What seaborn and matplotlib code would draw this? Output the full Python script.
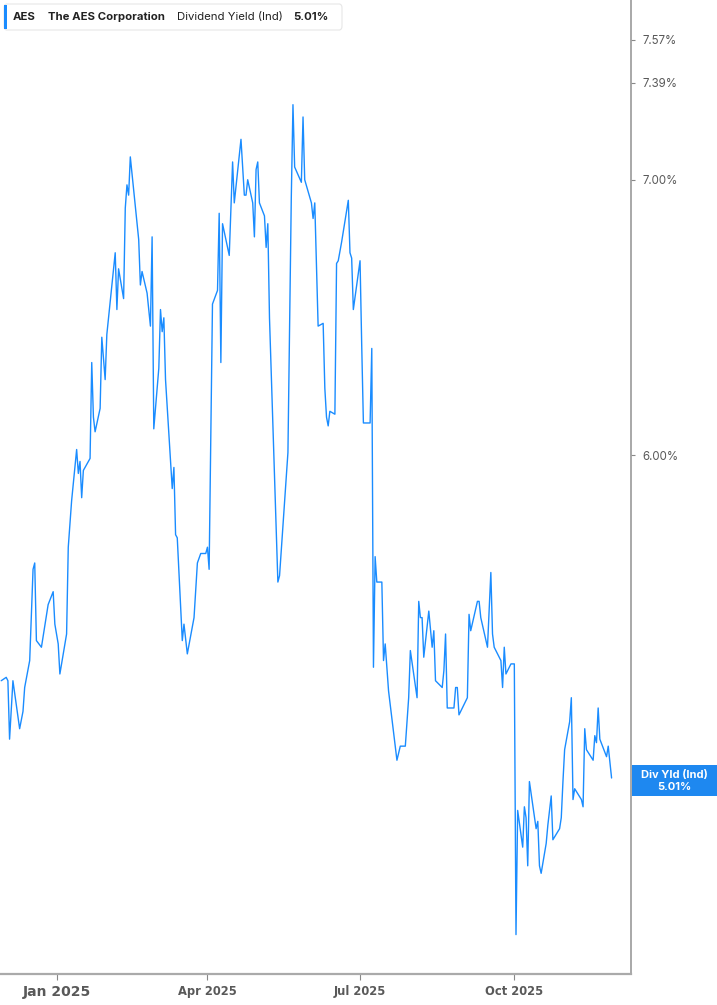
import matplotlib
matplotlib.use('Agg')
import matplotlib.pyplot as plt
import matplotlib.ticker as mticker
from matplotlib.patches import Rectangle, FancyBboxPatch
import seaborn as sns
import pandas as pd

# Dividend yield (Ind) for AES
dates = [
    "2024-11-29", "2024-12-02", "2024-12-03", "2024-12-04", "2024-12-06", "2024-12-10",
    "2024-12-12", "2024-12-13", "2024-12-16", "2024-12-18", "2024-12-19", "2024-12-20",
    "2024-12-23", "2024-12-27", "2024-12-30", "2024-12-31", "2025-01-02", "2025-01-03",
    "2025-01-07", "2025-01-08", "2025-01-10", "2025-01-13", "2025-01-14", "2025-01-15",
    "2025-01-16", "2025-01-17", "2025-01-21", "2025-01-22", "2025-01-23", "2025-01-24",
    "2025-01-27", "2025-01-28", "2025-01-30", "2025-01-31", "2025-02-05", "2025-02-06",
    "2025-02-07", "2025-02-10", "2025-02-11", "2025-02-12", "2025-02-13", "2025-02-14",
    "2025-02-19", "2025-02-20", "2025-02-21", "2025-02-24", "2025-02-26", "2025-02-27",
    "2025-02-28", "2025-03-03", "2025-03-04", "2025-03-05", "2025-03-06", "2025-03-07",
    "2025-03-11", "2025-03-12", "2025-03-13", "2025-03-14", "2025-03-17", "2025-03-18",
    "2025-03-20", "2025-03-24", "2025-03-26", "2025-03-28", "2025-03-31", "2025-04-01",
    "2025-04-02", "2025-04-04", "2025-04-07", "2025-04-08", "2025-04-09", "2025-04-10",
    "2025-04-14", "2025-04-16", "2025-04-17", "2025-04-21", "2025-04-23", "2025-04-24",
    "2025-04-25", "2025-04-28", "2025-04-29", "2025-04-30", "2025-05-01", "2025-05-02",
    "2025-05-05", "2025-05-06", "2025-05-07", "2025-05-08", "2025-05-13", "2025-05-14",
    "2025-05-19", "2025-05-21", "2025-05-22", "2025-05-23", "2025-05-27", "2025-05-28",
    "2025-05-29", "2025-06-02", "2025-06-03", "2025-06-04", "2025-06-06", "2025-06-09",
    "2025-06-10", "2025-06-11", "2025-06-12", "2025-06-13", "2025-06-16", "2025-06-17",
    "2025-06-18", "2025-06-20", "2025-06-24", "2025-06-25", "2025-06-26", "2025-06-27",
    "2025-07-01", "2025-07-02", "2025-07-03", "2025-07-07", "2025-07-08", "2025-07-09",
    "2025-07-10", "2025-07-11", "2025-07-14", "2025-07-15", "2025-07-16", "2025-07-18",
    "2025-07-23", "2025-07-25", "2025-07-28", "2025-07-30", "2025-07-31", "2025-08-04",
    "2025-08-05", "2025-08-06", "2025-08-07", "2025-08-08", "2025-08-11", "2025-08-13",
    "2025-08-14", "2025-08-15", "2025-08-19", "2025-08-20", "2025-08-21", "2025-08-22",
    "2025-08-26", "2025-08-27", "2025-08-28", "2025-08-29", "2025-09-03", "2025-09-04",
    "2025-09-05", "2025-09-09", "2025-09-10", "2025-09-11", "2025-09-15", "2025-09-17",
    "2025-09-18", "2025-09-19", "2025-09-23", "2025-09-24", "2025-09-25", "2025-09-26",
    "2025-09-29", "2025-10-01", "2025-10-02", "2025-10-03", "2025-10-06", "2025-10-07",
    "2025-10-08", "2025-10-09", "2025-10-10", "2025-10-14", "2025-10-15", "2025-10-16",
    "2025-10-17", "2025-10-20", "2025-10-21", "2025-10-22", "2025-10-23", "2025-10-24",
    "2025-10-28", "2025-10-29", "2025-10-30", "2025-10-31", "2025-11-03", "2025-11-04",
    "2025-11-05", "2025-11-06", "2025-11-10", "2025-11-11", "2025-11-12", "2025-11-13",
    "2025-11-17", "2025-11-18", "2025-11-19", "2025-11-20", "2025-11-21", "2025-11-25",
    "2025-11-26", "2025-11-28",
]
div_yield = [
    5.29, 5.30, 5.29, 5.12, 5.29, 5.15,
    5.20, 5.27, 5.35, 5.63, 5.65, 5.41,
    5.39, 5.52, 5.56, 5.46, 5.40, 5.31,
    5.43, 5.70, 5.85, 6.02, 5.94, 5.98,
    5.86, 5.95, 5.99, 6.32, 6.13, 6.08,
    6.16, 6.41, 6.26, 6.42, 6.72, 6.51,
    6.66, 6.55, 6.89, 6.98, 6.94, 7.09,
    6.77, 6.60, 6.65, 6.57, 6.45, 6.78,
    6.09, 6.30, 6.51, 6.43, 6.48, 6.26,
    5.89, 5.96, 5.74, 5.73, 5.41, 5.46,
    5.37, 5.48, 5.65, 5.68, 5.68, 5.70,
    5.63, 6.53, 6.58, 6.87, 6.32, 6.83,
    6.71, 7.07, 6.91, 7.16, 6.94, 6.94,
    7.00, 6.91, 6.78, 7.04, 7.07, 6.91,
    6.86, 6.74, 6.83, 6.48, 5.59, 5.61,
    6.01, 6.93, 7.30, 7.05, 6.99, 7.25,
    7.00, 6.91, 6.85, 6.91, 6.45, 6.46,
    6.23, 6.13, 6.10, 6.15, 6.14, 6.68,
    6.69, 6.76, 6.92, 6.72, 6.70, 6.51,
    6.69, 6.38, 6.11, 6.11, 6.37, 5.33,
    5.67, 5.59, 5.59, 5.35, 5.40, 5.26,
    5.06, 5.10, 5.10, 5.24, 5.38, 5.24,
    5.53, 5.48, 5.48, 5.36, 5.50, 5.39,
    5.44, 5.29, 5.27, 5.32, 5.43, 5.21,
    5.21, 5.27, 5.27, 5.19, 5.24, 5.49,
    5.44, 5.53, 5.53, 5.48, 5.39, 5.62,
    5.43, 5.39, 5.35, 5.27, 5.39, 5.31,
    5.34, 5.34, 4.59, 4.92, 4.82, 4.93,
    4.90, 4.77, 5.00, 4.87, 4.89, 4.77,
    4.75, 4.83, 4.88, 4.92, 4.96, 4.84,
    4.87, 4.90, 5.00, 5.09, 5.17, 5.24,
    4.95, 4.98, 4.95, 4.93, 5.15, 5.09,
    5.06, 5.13, 5.11, 5.21, 5.12, 5.07,
    5.10, 5.01,
]
ytick_values = [6.00, 7.00, 7.39, 7.57]
xtick_dates = ["2025-01-01", "2025-04-01", "2025-07-01", "2025-10-01"]
xtick_labels = ["Jan 2025", "Apr 2025", "Jul 2025", "Oct 2025"]
last_value = div_yield[-1]

BLUE = '#1a8cff'
GREY = '#595959'

sns.set_theme(style='white')
plt.rcParams['font.family'] = ['Inter', 'DejaVu Sans']

df = pd.DataFrame({'date': pd.to_datetime(dates), 'yield': div_yield})

W, H = 717, 1005
fig = plt.figure(figsize=(W / 100, H / 100), dpi=100)
ax = fig.add_axes([0, 31 / H, 631 / W, 974 / H])

sns.lineplot(data=df, x='date', y='yield', ax=ax, color=BLUE, linewidth=1.0)

ax.set_yscale('log')
ax.set_ylim(4.49, 7.74)
ax.set_xlim(pd.Timestamp('2024-11-28 07:00'), pd.Timestamp('2025-12-09 14:00'))

# right-hand y axis
ax.yaxis.tick_right()
ax.yaxis.set_major_locator(mticker.FixedLocator(ytick_values))
ax.yaxis.set_minor_locator(mticker.NullLocator())
ax.yaxis.set_major_formatter(mticker.FuncFormatter(lambda v, p: f"{v:.2f}%"))
ax.tick_params(axis='y', which='major', right=True, left=False, length=3, width=0.8,
               color='#888888', labelcolor=GREY, labelsize=8.3, pad=5)

# bottom x axis
ax.set_xticks(pd.to_datetime(xtick_dates))
ax.set_xticklabels(xtick_labels)
ax.tick_params(axis='x', bottom=True, length=4, width=0.8, color='#888888',
               labelcolor=GREY, labelsize=8.3, pad=4)
for lbl in ax.get_xticklabels():
    lbl.set_family(['Liberation Sans Narrow', 'DejaVu Sans Condensed', 'DejaVu Sans'])
    lbl.set_fontweight('semibold')
first = ax.get_xticklabels()[0]
first.set_fontweight('bold')
first.set_fontsize(10)

ax.set_xlabel('')
ax.set_ylabel('')
ax.grid(False)
for side in ['left', 'top']:
    ax.spines[side].set_visible(False)
ax.spines['bottom'].set_color('#aaaaaa')
ax.spines['bottom'].set_linewidth(1.6)
ax.spines['right'].set_color('#999999')
ax.spines['right'].set_linewidth(1.2)

# header box
fig.patches.append(FancyBboxPatch((4 / W, 1 - 30 / H), 338 / W, 26 / H,
                                  boxstyle='round,pad=0,rounding_size=0.004',
                                  transform=fig.transFigure, facecolor='white',
                                  edgecolor='#e6e6e6', linewidth=0.8, zorder=5))
fig.patches.append(Rectangle((4 / W, 1 - 29 / H), 3 / W, 24 / H, transform=fig.transFigure,
                             facecolor=BLUE, edgecolor='none', zorder=6))
header = [(13, "AES", 'bold'), (48, "The AES Corporation", 'bold'),
          (177, "Dividend Yield (Ind)", 'normal'), (293, f"{last_value:.2f}%", 'bold')]
for px, txt, wt in header:
    fig.text(px / W, 1 - 17 / H, txt, ha='left', va='center', fontsize=8.2,
             fontweight=wt, color='#222222', zorder=7)

# last-value tag on the right axis
fig.canvas.draw()
y_disp = ax.transData.transform((ax.get_xlim()[0], last_value))[1]
y_fig = y_disp / H - 3 / H
box_h = 31 / H
fig.patches.append(Rectangle((632 / W, y_fig - box_h / 2), 85 / W, box_h,
                             transform=fig.transFigure, facecolor='#1e88f0',
                             edgecolor='none', zorder=5))
fig.text(674 / W, y_fig + 6 / H, "Div Yld (Ind)", ha='center', va='center',
         fontsize=8, fontweight='bold', color='white', zorder=6)
fig.text(674 / W, y_fig - 6 / H, f"{last_value:.2f}%", ha='center', va='center',
         fontsize=8, fontweight='bold', color='white', zorder=6)

fig.savefig('out.png', dpi=100)
